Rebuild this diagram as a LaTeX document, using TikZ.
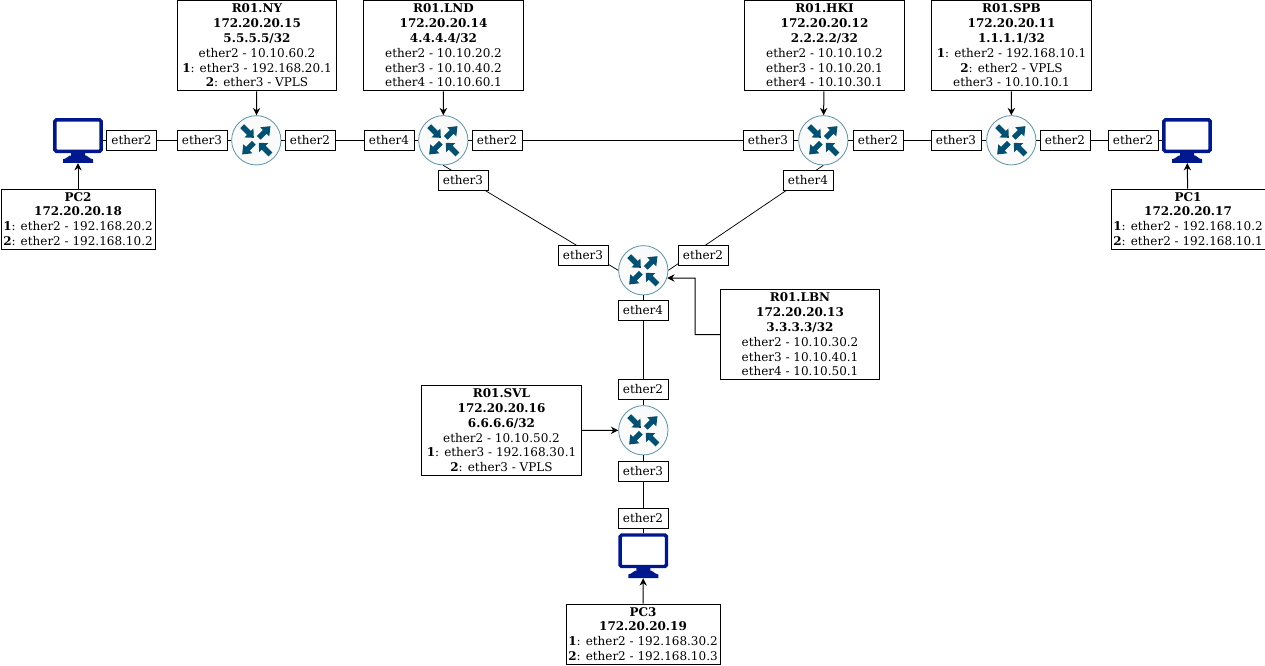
\documentclass[tikz,border=0pt]{standalone}
\usepackage{fontspec}
\setmainfont{DejaVu Serif}
\usetikzlibrary{arrows.meta}

\definecolor{routerline}{HTML}{5B93A8}
\definecolor{routerarrow}{HTML}{005073}
\definecolor{pcblue}{HTML}{00188D}

% corner of a block arrow, in diagonal coordinates
\newcommand{\blockpt}[2]{({\blockx*((#1)-(#2))*0.7071},{\blocky*((#1)+(#2))*0.7071})}
% one block arrow of the router icon: quadrant signs, tail, neck, tip
\newcommand{\routerblock}[5]{
  \def\blockx{#1}\def\blocky{#2}
  \fill[routerarrow] \blockpt{#3}{-2.7} -- \blockpt{#4}{-2.7} -- \blockpt{#4}{-6.4} -- \blockpt{#5}{0} -- \blockpt{#4}{6.4} -- \blockpt{#4}{2.7} -- \blockpt{#3}{2.7} -- cycle;
}

\tikzset{
  routernode/.style={circle, draw=routerline, fill=black!2, line width=0.6pt, minimum size=37pt, inner sep=0pt,
    path picture={
      \begin{scope}[shift={(path picture bounding box.center)}]
        \routerblock{-1}{-1}{20}{10.5}{3.5}
        \routerblock{1}{1}{20}{10.5}{3.5}
        \routerblock{1}{-1}{3.5}{12}{20}
        \routerblock{-1}{1}{3.5}{12}{20}
      \end{scope}
    }},
  pcnode/.style={rectangle, minimum width=37.5pt, minimum height=33.75pt, inner sep=0pt,
    path picture={
      \begin{scope}[shift={(path picture bounding box.center)}]
        \draw[pcblue, fill=white, line width=2.6pt, rounded corners=1.2pt] (-23.2,-20.5) rectangle (23.2,11);
        \fill[pcblue] (-7,12) -- (7,12) -- (7,16) to[out=90, in=180] (15,19) -- (15,22.5) -- (-15,22.5) -- (-15,19) to[out=0, in=90] (-7,16) -- cycle;
      \end{scope}
    }},
  portbox/.style={draw, fill=white, line width=0.75pt, minimum width=37.5pt, minimum height=15pt, inner sep=0pt, font=\fontsize{9pt}{11.1pt}\selectfont},
  infobox/.style={draw, fill=white, line width=0.75pt, inner sep=0pt, align=center, font=\fontsize{9pt}{11.1pt}\selectfont},
  routerinfo/.style={infobox, minimum width=119.5pt, minimum height=68pt},
  pcinfo/.style={infobox, minimum width=115.5pt, minimum height=45pt},
  link/.style={line width=0.75pt},
  slantlink/.style={line width=0.55pt},
  pointer/.style={line width=0.75pt, -{Stealth[length=5.5pt, width=5.5pt]}}
}

\begin{document}
\begin{tikzpicture}[x=0.75pt, y=-0.75pt]
\useasboundingbox (0,0) rectangle (1265,665);

% routers
\node[routernode] (ny) at (256.3,140.3) {};
\node[routernode] (lnd) at (443.3,140.3) {};
\node[routernode] (hki) at (823.3,140.3) {};
\node[routernode] (spb) at (1011.3,140.3) {};
\node[routernode] (lbn) at (643.3,270.3) {};
\node[routernode] (svl) at (643.3,430.3) {};

% computers
\node[pcnode] (pc2) at (78,140.3) {};
\node[pcnode] (pc1) at (1187,140.3) {};
\node[pcnode] (pc3) at (643.3,555.5) {};

% links
\draw[link] (pc2) -- (ny);
\draw[link] (ny) -- (lnd);
\draw[link] (lnd) -- (hki);
\draw[link] (hki) -- (spb);
\draw[link] (spb) -- (pc1);
\draw[slantlink] (lnd.south) -- (lbn.west);
\draw[slantlink] (hki.south) -- (lbn.east);
\draw[link] (lbn) -- (svl);
\draw[link] (svl) -- (pc3);

% ports
\node[portbox] (pc2e2) at (131.5,140) {ether2};
\node[portbox] (nye3) at (202,140) {ether3};
\node[portbox] (nye2) at (310,140) {ether2};
\node[portbox] (lnde4) at (389,140) {ether4};
\node[portbox] (lnde2) at (497,140) {ether2};
\node[portbox] (hkie3) at (768,140) {ether3};
\node[portbox] (hkie2) at (878,140) {ether2};
\node[portbox] (spbe3) at (956,140) {ether3};
\node[portbox] (spbe2) at (1065,140) {ether2};
\node[portbox] (pc1e2) at (1133,140) {ether2};
\node[portbox] (lnde3) at (463,180) {ether3};
\node[portbox] (hkie4) at (808,180) {ether4};
\node[portbox] (lbne3) at (583,255) {ether3};
\node[portbox] (lbne2) at (703,255) {ether2};
\node[portbox] (lbne4) at (643,310) {ether4};
\node[portbox] (svle2) at (643,389) {ether2};
\node[portbox] (svle3) at (643,471) {ether3};
\node[portbox] (pc3e2) at (643,518) {ether2};

% info boxes
\node[routerinfo] (nyinfo) at (257,45.5) {\textbf{R01.NY}\\\textbf{172.20.20.15}\\\textbf{5.5.5.5/32}\\ether2 - 10.10.60.2\\\textbf{1}: ether3 - 192.168.20.1\\\textbf{2}: ether3 - VPLS};
\node[routerinfo] (lndinfo) at (443.5,45.5) {\textbf{R01.LND}\\\textbf{172.20.20.14}\\\textbf{4.4.4.4/32}\\ether2 - 10.10.20.2\\ether3 - 10.10.40.2\\ether4 - 10.10.60.1};
\node[routerinfo] (hkiinfo) at (824.5,45.5) {\textbf{R01.HKI}\\\textbf{172.20.20.12}\\\textbf{2.2.2.2/32}\\ether2 - 10.10.10.2\\ether3 - 10.10.20.1\\ether4 - 10.10.30.1};
\node[routerinfo] (spbinfo) at (1011.5,45.5) {\textbf{R01.SPB}\\\textbf{172.20.20.11}\\\textbf{1.1.1.1/32}\\\textbf{1}: ether2 - 192.168.10.1\\\textbf{2}: ether2 - VPLS\\ether3 - 10.10.10.1};
\node[routerinfo] (lbninfo) at (800,334.5) {\textbf{R01.LBN}\\\textbf{172.20.20.13}\\\textbf{3.3.3.3/32}\\ether2 - 10.10.30.2\\ether3 - 10.10.40.1\\ether4 - 10.10.50.1};
\node[routerinfo] (svlinfo) at (501.5,430.4) {\textbf{R01.SVL}\\\textbf{172.20.20.16}\\\textbf{6.6.6.6/32}\\ether2 - 10.10.50.2\\\textbf{1}: ether3 - 192.168.30.1\\\textbf{2}: ether3 - VPLS};
\node[pcinfo] (pc2info) at (78,219) {\textbf{PC2}\\\textbf{172.20.20.18}\\\textbf{1}: ether2 - 192.168.20.2\\\textbf{2}: ether2 - 192.168.10.2};
\node[pcinfo] (pc1info) at (1188,219) {\textbf{PC1}\\\textbf{172.20.20.17}\\\textbf{1}: ether2 - 192.168.10.2\\\textbf{2}: ether2 - 192.168.10.1};
\node[pcinfo] (pc3info) at (643,634) {\textbf{PC3}\\\textbf{172.20.20.19}\\\textbf{1}: ether2 - 192.168.30.2\\\textbf{2}: ether2 - 192.168.10.3};

% pointers
\draw[pointer] (nyinfo) -- (ny);
\draw[pointer] (lndinfo) -- (lnd);
\draw[pointer] (hkiinfo) -- (hki);
\draw[pointer] (spbinfo) -- (spb);
\draw[pointer] (svlinfo) -- (svl);
\draw[pointer] (pc2info) -- (pc2);
\draw[pointer] (pc1info) -- (pc1);
\draw[pointer] (pc3info) -- (pc3);
\coordinate (lbnbend) at (695,278);
\draw[pointer] (lbninfo.west) -| (lbnbend) -- (lbn.-18);

\end{tikzpicture}
\end{document}
